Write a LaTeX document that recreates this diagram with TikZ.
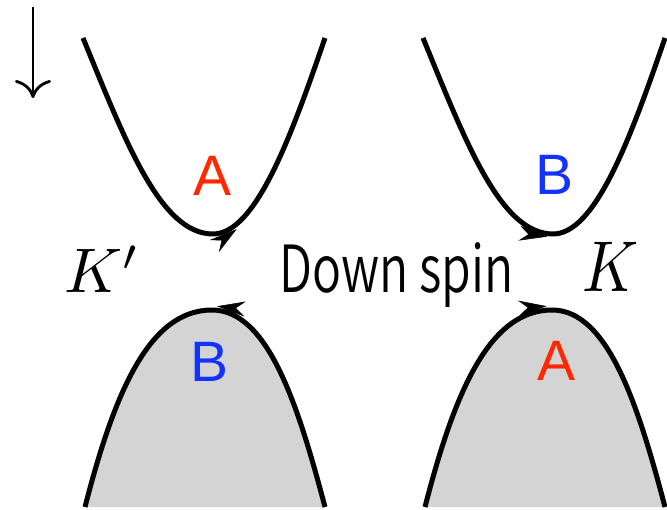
\documentclass[tikz,border=0pt]{standalone}
\usepackage{fontspec}
\usepackage{graphicx}
\usetikzlibrary{arrows.meta, decorations.markings}
\setsansfont{Liberation Sans}
\IfFontExistsTF{Noto Sans CJK JP DemiLight}
	{\newfontfamily\spinfont{Noto Sans CJK JP DemiLight}}
	{\IfFontExistsTF{Noto Sans CJK JP Light}
		{\newfontfamily\spinfont{Noto Sans CJK JP Light}}
		{\newfontfamily\spinfont{Noto Sans CJK JP}}}
\definecolor{labelred}{RGB}{255,40,0}
\definecolor{labelblue}{RGB}{20,50,255}
\definecolor{bandgray}{RGB}{212,212,212}

\begin{document}
\begin{tikzpicture}[x=1pt, y=-1pt, >=latex,
		band/.style={line width=5pt, line join=round, postaction={decorate}},
		flowtip/.style 2 args={decoration={markings, mark=at position #1 with {\arrow[yshift=#2]{Stealth[length=28pt, width=15pt, line width=0.5pt]}}}},
		backtip/.style 2 args={decoration={markings, mark=at position #1 with {\arrowreversed[yshift=#2]{Stealth[length=28pt, width=15pt, line width=0.5pt]}}}},
		sublattice/.style={font=\sffamily\fontsize{57}{57}\selectfont, inner sep=0pt}]
			%Bildbereich
			\useasboundingbox (0,0) rectangle (667,510);
			% Spinpfeil
			\coordinate (spin top) at (33,7);
			\coordinate (spin tip) at (33,98);
			\draw[line width=2.8pt, -{Computer Modern Rightarrow[length=18pt, width=36pt]}] (spin top) -- (spin tip);
			% Leitungsbaender
			\draw[band, flowtip={0.56}{-4pt}] (83,38) .. controls (125,140) and (160,234) .. (213,234) .. controls (255,234) and (290,140) .. (325,38);
			\draw[band, flowtip={0.5}{-3pt}] (423,38) .. controls (465,140) and (500,234) .. (553,234) .. controls (595,234) and (630,140) .. (665,38);
			% Valenzbaender
			\draw[band, fill=bandgray, backtip={0.52}{4pt}] (85,507) .. controls (115,390) and (150,310) .. (212,310) .. controls (268,310) and (298,405) .. (325,507);
			\draw[band, fill=bandgray, flowtip={0.5}{4pt}] (425,507) .. controls (455,390) and (490,310) .. (552,310) .. controls (608,310) and (638,405) .. (665,507);
			% Untergitter
			\node[sublattice, text=labelred]  (upper A) at (213,176) {A};
			\node[sublattice, text=labelblue] (upper B) at (555,175) {B};
			\node[sublattice, text=labelblue] (lower B) at (210,362) {B};
			\node[sublattice, text=labelred]  (lower A) at (557,361) {A};
			%Beschriftung
			\node[inner sep=0pt, anchor=base west] (Kprime) at (64,293) {\scalebox{6.3}{$K'$}};
			\node[inner sep=0pt, anchor=base west] (K) at (582,292) {\scalebox{6.1}[7.2]{$K$}};
			\node[inner sep=0pt, anchor=base west, font=\spinfont\fontsize{65}{65}\selectfont] (spin) at (279,293) {\resizebox{234pt}{\height}{Down spin}};
		\end{tikzpicture}
\end{document}
